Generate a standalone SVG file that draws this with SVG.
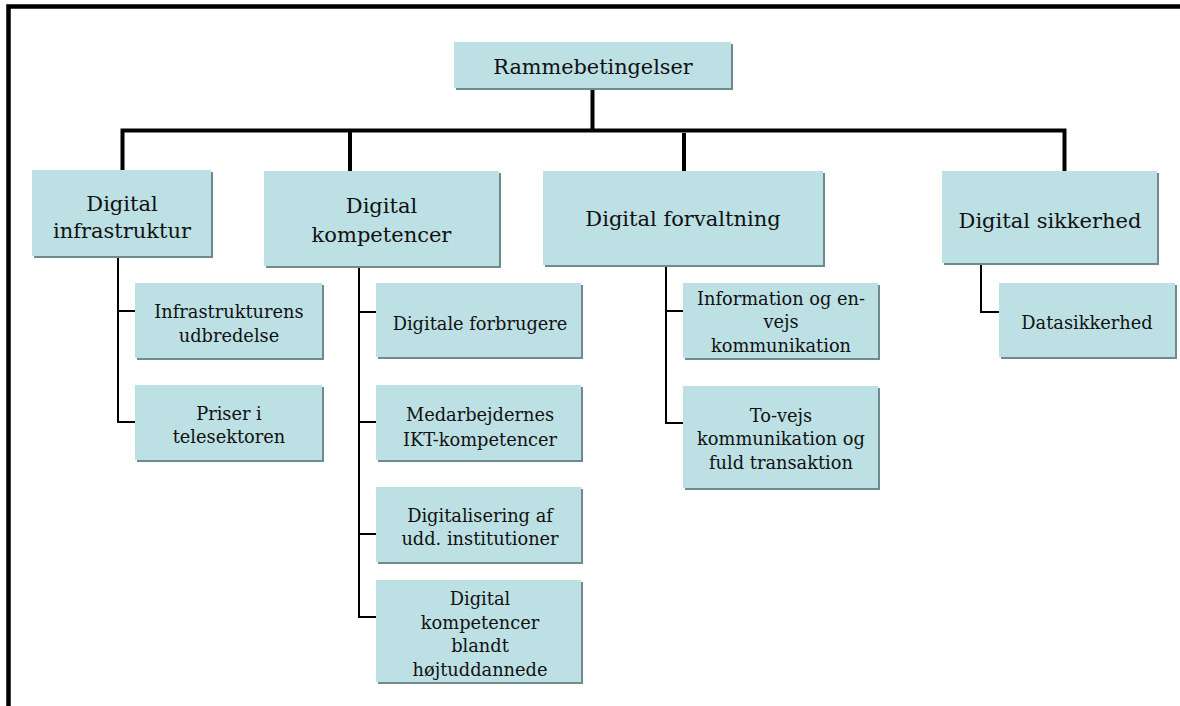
<svg xmlns="http://www.w3.org/2000/svg" width="1180" height="706" viewBox="0 0 1180 706">
  <style>
    .box { fill: #bce0e3; }
    .shadow { fill: #6f8b8d; }
    .t { font-family: "DejaVu Serif", "Liberation Serif", serif; fill: #111; text-anchor: middle; }
    .root { font-size: 20.8px; }
    .l2 { font-size: 21px; }
    .l3 { font-size: 17.8px; }
    .main { stroke: #000; stroke-width: 4; fill: none; }
    .sub { stroke: #000; stroke-width: 2; fill: none; }
  </style>

  <!-- outer frame: top and left edges -->
  <path d="M8.5 706 V6.5 H1180" stroke="#000" stroke-width="4.5" fill="none"/>

  <!-- connectors -->
  <g id="connectors">
    <path class="main" d="M592.5 88 V130.5"/>
    <path class="main" d="M122.5 170 V130.5 H1064.5 V171"/>
    <path class="main" d="M350 130.5 V171"/>
    <path class="main" d="M684 133 V171"/>
    <path class="sub" d="M118 256 V422 H135 M118 311 H135"/>
    <path class="sub" d="M359 266 V617 H376 M359 312 H376 M359 422 H376 M359 534 H376"/>
    <path class="sub" d="M666 265 V423 H683 M666 311 H683"/>
    <path class="sub" d="M981 263 V312 H999"/>
  </g>

  <g id="n-root">
    <rect class="shadow" x="456" y="44" width="277" height="46"/>
    <rect class="box" x="454" y="42" width="277" height="46"/>
    <text class="t root" x="593" y="74">Rammebetingelser</text>
  </g>

  <g id="n-infrastruktur">
    <rect class="shadow" x="34" y="172" width="179" height="86"/>
    <rect class="box" x="32" y="170" width="179" height="86"/>
    <text class="t l2" x="122" y="211">Digital</text>
    <text class="t l2" x="122" y="238">infrastruktur</text>
  </g>

  <g id="n-kompetencer">
    <rect class="shadow" x="266" y="173" width="235" height="95"/>
    <rect class="box" x="264" y="171" width="235" height="95"/>
    <text class="t l2" x="381.5" y="213">Digital</text>
    <text class="t l2" x="381.5" y="242">kompetencer</text>
  </g>

  <g id="n-forvaltning">
    <rect class="shadow" x="545" y="173" width="280" height="94"/>
    <rect class="box" x="543" y="171" width="280" height="94"/>
    <text class="t l2" x="683" y="226">Digital forvaltning</text>
  </g>

  <g id="n-sikkerhed">
    <rect class="shadow" x="944" y="173" width="215" height="92"/>
    <rect class="box" x="942" y="171" width="215" height="92"/>
    <text class="t l2" x="1050" y="228">Digital sikkerhed</text>
  </g>

  <g id="n-udbredelse">
    <rect class="shadow" x="137" y="285" width="187" height="75"/>
    <rect class="box" x="135" y="283" width="187" height="75"/>
    <text class="t l3" x="229" y="318">Infrastrukturens</text>
    <text class="t l3" x="229" y="342">udbredelse</text>
  </g>

  <g id="n-priser">
    <rect class="shadow" x="137" y="387" width="187" height="75"/>
    <rect class="box" x="135" y="385" width="187" height="75"/>
    <text class="t l3" x="229" y="420">Priser i</text>
    <text class="t l3" x="229" y="443">telesektoren</text>
  </g>

  <g id="n-forbrugere">
    <rect class="shadow" x="378" y="285" width="205" height="74"/>
    <rect class="box" x="376" y="283" width="205" height="74"/>
    <text class="t l3" x="480" y="330">Digitale forbrugere</text>
  </g>

  <g id="n-medarbejdere">
    <rect class="shadow" x="378" y="387" width="205" height="75"/>
    <rect class="box" x="376" y="385" width="205" height="75"/>
    <text class="t l3" x="480" y="421">Medarbejdernes</text>
    <text class="t l3" x="480" y="446">IKT-kompetencer</text>
  </g>

  <g id="n-digitalisering">
    <rect class="shadow" x="378" y="489" width="205" height="75"/>
    <rect class="box" x="376" y="487" width="205" height="75"/>
    <text class="t l3" x="480" y="522">Digitalisering af</text>
    <text class="t l3" x="480" y="545">udd. institutioner</text>
  </g>

  <g id="n-hoejtuddannede">
    <rect class="shadow" x="378" y="582" width="205" height="102"/>
    <rect class="box" x="376" y="580" width="205" height="102"/>
    <text class="t l3" x="480" y="605">Digital</text>
    <text class="t l3" x="480" y="629">kompetencer</text>
    <text class="t l3" x="480" y="652">blandt</text>
    <text class="t l3" x="480" y="676">højtuddannede</text>
  </g>

  <g id="n-envejs">
    <rect class="shadow" x="685" y="285" width="195" height="75"/>
    <rect class="box" x="683" y="283" width="195" height="75"/>
    <text class="t l3" x="781" y="305">Information og en-</text>
    <text class="t l3" x="781" y="328">vejs</text>
    <text class="t l3" x="781" y="352">kommunikation</text>
  </g>

  <g id="n-tovejs">
    <rect class="shadow" x="685" y="388" width="195" height="102"/>
    <rect class="box" x="683" y="386" width="195" height="102"/>
    <text class="t l3" x="781" y="422">To-vejs</text>
    <text class="t l3" x="781" y="445">kommunikation og</text>
    <text class="t l3" x="781" y="469">fuld transaktion</text>
  </g>

  <g id="n-datasikkerhed">
    <rect class="shadow" x="1001" y="285" width="176" height="74"/>
    <rect class="box" x="999" y="283" width="176" height="74"/>
    <text class="t l3" x="1087" y="329">Datasikkerhed</text>
  </g>
</svg>
